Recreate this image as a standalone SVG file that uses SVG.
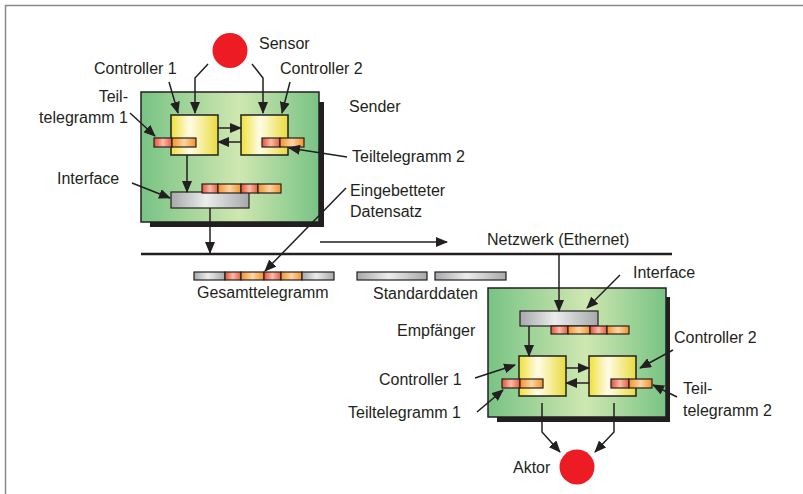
<svg xmlns="http://www.w3.org/2000/svg" width="803" height="494" viewBox="0 0 803 494">
<defs>
<linearGradient id="gGreen"><stop offset="0" stop-color="#78c384"/><stop offset="0.55" stop-color="#cfe7b1"/><stop offset="1" stop-color="#78c384"/></linearGradient>
<linearGradient id="gYellow"><stop offset="0" stop-color="#eee03a"/><stop offset="0.4" stop-color="#fffce6"/><stop offset="1" stop-color="#e8db3c"/></linearGradient>
<linearGradient id="gRed"><stop offset="0" stop-color="#e8503a"/><stop offset="0.5" stop-color="#f9bca6"/><stop offset="1" stop-color="#e85a3c"/></linearGradient>
<linearGradient id="gOrange"><stop offset="0" stop-color="#f3922a"/><stop offset="0.5" stop-color="#fcd5a4"/><stop offset="1" stop-color="#f3922a"/></linearGradient>
<linearGradient id="gGray"><stop offset="0" stop-color="#a6a8ab"/><stop offset="0.45" stop-color="#ececec"/><stop offset="1" stop-color="#a6a8ab"/></linearGradient>
<marker id="ah" markerUnits="userSpaceOnUse" markerWidth="12" markerHeight="10" refX="11" refY="5" orient="auto"><path d="M0,0 L12,5 L0,10 z" fill="#231f20"/></marker>
<style>
.t{font-family:"Liberation Sans",Arial,sans-serif;font-size:16px;fill:#231f20}
.board{fill:url(#gGreen);stroke:#231f20;stroke-width:1.5}
.shadow{fill:#231f20}
.ctrl{fill:url(#gYellow);stroke:#231f20;stroke-width:1.5}
.r{fill:url(#gRed);stroke:#231f20;stroke-width:1.2}
.o{fill:url(#gOrange);stroke:#231f20;stroke-width:1.2}
.g{fill:url(#gGray);stroke:#231f20;stroke-width:1.2}
.c{fill:none;stroke:#231f20;stroke-width:1.5}
.a{marker-end:url(#ah)}
.dot{fill:#ed1c24}
</style>
</defs>
<rect width="803" height="494" fill="#ffffff"/>
<path d="M5.5,494 V5.5 H803" fill="none" stroke="#8a8a8a" stroke-width="1.5"/>

<g id="sender">
<rect class="shadow" x="150" y="102" width="174" height="125"/>
<rect class="board" x="141" y="92" width="178" height="130"/>
<text class="t" x="349" y="112">Sender</text>
</g>
<g id="sensor">
<circle class="dot" cx="230" cy="50.5" r="17.5"/>
<text class="t" x="259" y="49">Sensor</text>
</g>
<g id="sender-controller1">
<rect class="ctrl" x="171" y="115" width="47" height="40"/>
<text class="t" x="94" y="74">Controller 1</text>
</g>
<g id="sender-controller2">
<rect class="ctrl" x="241" y="115" width="47" height="40"/>
<text class="t" x="280" y="74">Controller 2</text>
</g>
<g id="sender-teil1">
<rect class="r" x="154" y="138" width="18" height="9"/>
<rect class="o" x="172" y="138" width="24" height="9"/>
<text class="t" x="128" y="102" text-anchor="end">Teil-</text>
<text class="t" x="128" y="123" text-anchor="end">telegramm 1</text>
</g>
<g id="sender-teil2">
<rect class="r" x="262" y="138" width="18" height="9"/>
<rect class="o" x="280" y="138" width="24" height="9"/>
<text class="t" x="352" y="162">Teiltelegramm 2</text>
</g>
<g id="sender-interface">
<rect class="g" x="171" y="192" width="78" height="16"/>
<rect class="r" x="202" y="184" width="16" height="9"/>
<rect class="o" x="218" y="184" width="23" height="9"/>
<rect class="r" x="241" y="184" width="17" height="9"/>
<rect class="o" x="258" y="184" width="23" height="9"/>
<text class="t" x="57" y="184">Interface</text>
<text class="t" x="350" y="196">Eingebetteter</text>
<text class="t" x="350" y="217">Datensatz</text>
</g>
<g id="network">
<text class="t" x="487" y="245">Netzwerk (Ethernet)</text>
</g>
<g id="gesamttelegramm">
<rect class="g" x="194" y="272" width="31" height="8"/>
<rect class="r" x="225" y="272" width="16" height="8"/>
<rect class="o" x="241" y="272" width="23" height="8"/>
<rect class="r" x="264" y="272" width="17" height="8"/>
<rect class="o" x="281" y="272" width="21" height="8"/>
<rect class="g" x="302" y="272" width="32" height="8"/>
<text class="t" x="197" y="298">Gesamttelegramm</text>
</g>
<g id="standarddaten">
<rect class="g" x="357" y="272" width="70" height="8"/>
<rect class="g" x="435" y="272" width="71" height="8"/>
<text class="t" x="373" y="299">Standarddaten</text>
</g>
<g id="receiver">
<rect class="shadow" x="497" y="297" width="173" height="125"/>
<rect class="board" x="488" y="288" width="178" height="129"/>
<text class="t" x="397" y="336">Empfänger</text>
</g>
<g id="receiver-interface">
<rect class="g" x="520" y="311" width="78" height="15"/>
<rect class="r" x="551" y="326" width="17" height="8"/>
<rect class="o" x="568" y="326" width="22" height="8"/>
<rect class="r" x="590" y="326" width="17" height="8"/>
<rect class="o" x="607" y="326" width="22" height="8"/>
<text class="t" x="633" y="278">Interface</text>
</g>
<g id="receiver-controller1">
<rect class="ctrl" x="519" y="356" width="47" height="40"/>
<text class="t" x="379" y="385">Controller 1</text>
</g>
<g id="receiver-controller2">
<rect class="ctrl" x="589" y="356" width="47" height="40"/>
<text class="t" x="674" y="343">Controller 2</text>
</g>
<g id="receiver-teil1">
<rect class="r" x="502" y="379" width="18" height="9"/>
<rect class="o" x="520" y="379" width="23" height="9"/>
<text class="t" x="348" y="418">Teiltelegramm 1</text>
</g>
<g id="receiver-teil2">
<rect class="r" x="611" y="379" width="18" height="9"/>
<rect class="o" x="629" y="379" width="23" height="9"/>
<text class="t" x="683" y="394">Teil-</text>
<text class="t" x="683" y="416">telegramm 2</text>
</g>
<g id="aktor">
<circle class="dot" cx="577" cy="467" r="17.5"/>
<text class="t" x="513" y="473">Aktor</text>
</g>

<g id="connectors">
<line x1="141" y1="254" x2="672" y2="254" stroke="#231f20" stroke-width="2.5"/>
<polyline class="c a" points="208,64 195,78 195,113"/>
<polyline class="c a" points="252,64 263,78 263,113"/>
<line class="c a" x1="169" y1="82" x2="178" y2="113"/>
<line class="c a" x1="290" y1="82" x2="282" y2="113"/>
<line class="c a" x1="218" y1="128" x2="241" y2="128"/>
<line class="c a" x1="241" y1="142" x2="218" y2="142"/>
<line class="c a" x1="187" y1="155" x2="187" y2="192"/>
<line class="c a" x1="210" y1="208" x2="210" y2="253"/>
<line class="c a" x1="130" y1="113" x2="155" y2="136"/>
<line class="c a" x1="132" y1="183" x2="170" y2="198"/>
<line class="c a" x1="347" y1="157" x2="289" y2="148"/>
<line class="c a" x1="346" y1="188" x2="265" y2="271"/>
<line class="c a" x1="320" y1="242" x2="447" y2="242"/>
<line class="c a" x1="559" y1="255" x2="559" y2="311"/>
<line class="c a" x1="620" y1="275" x2="587" y2="308"/>
<line class="c a" x1="529" y1="326" x2="529" y2="356"/>
<line class="c a" x1="566" y1="368" x2="589" y2="368"/>
<line class="c a" x1="589" y1="383" x2="566" y2="383"/>
<line class="c a" x1="475" y1="378" x2="515" y2="365"/>
<line class="c a" x1="477" y1="412" x2="503" y2="390"/>
<line class="c a" x1="673" y1="350" x2="640" y2="368"/>
<line class="c a" x1="677" y1="397" x2="653" y2="385"/>
<polyline class="c a" points="542,403 542,432 560,452"/>
<polyline class="c a" points="614,403 614,432 595,452"/>
</g>
</svg>
